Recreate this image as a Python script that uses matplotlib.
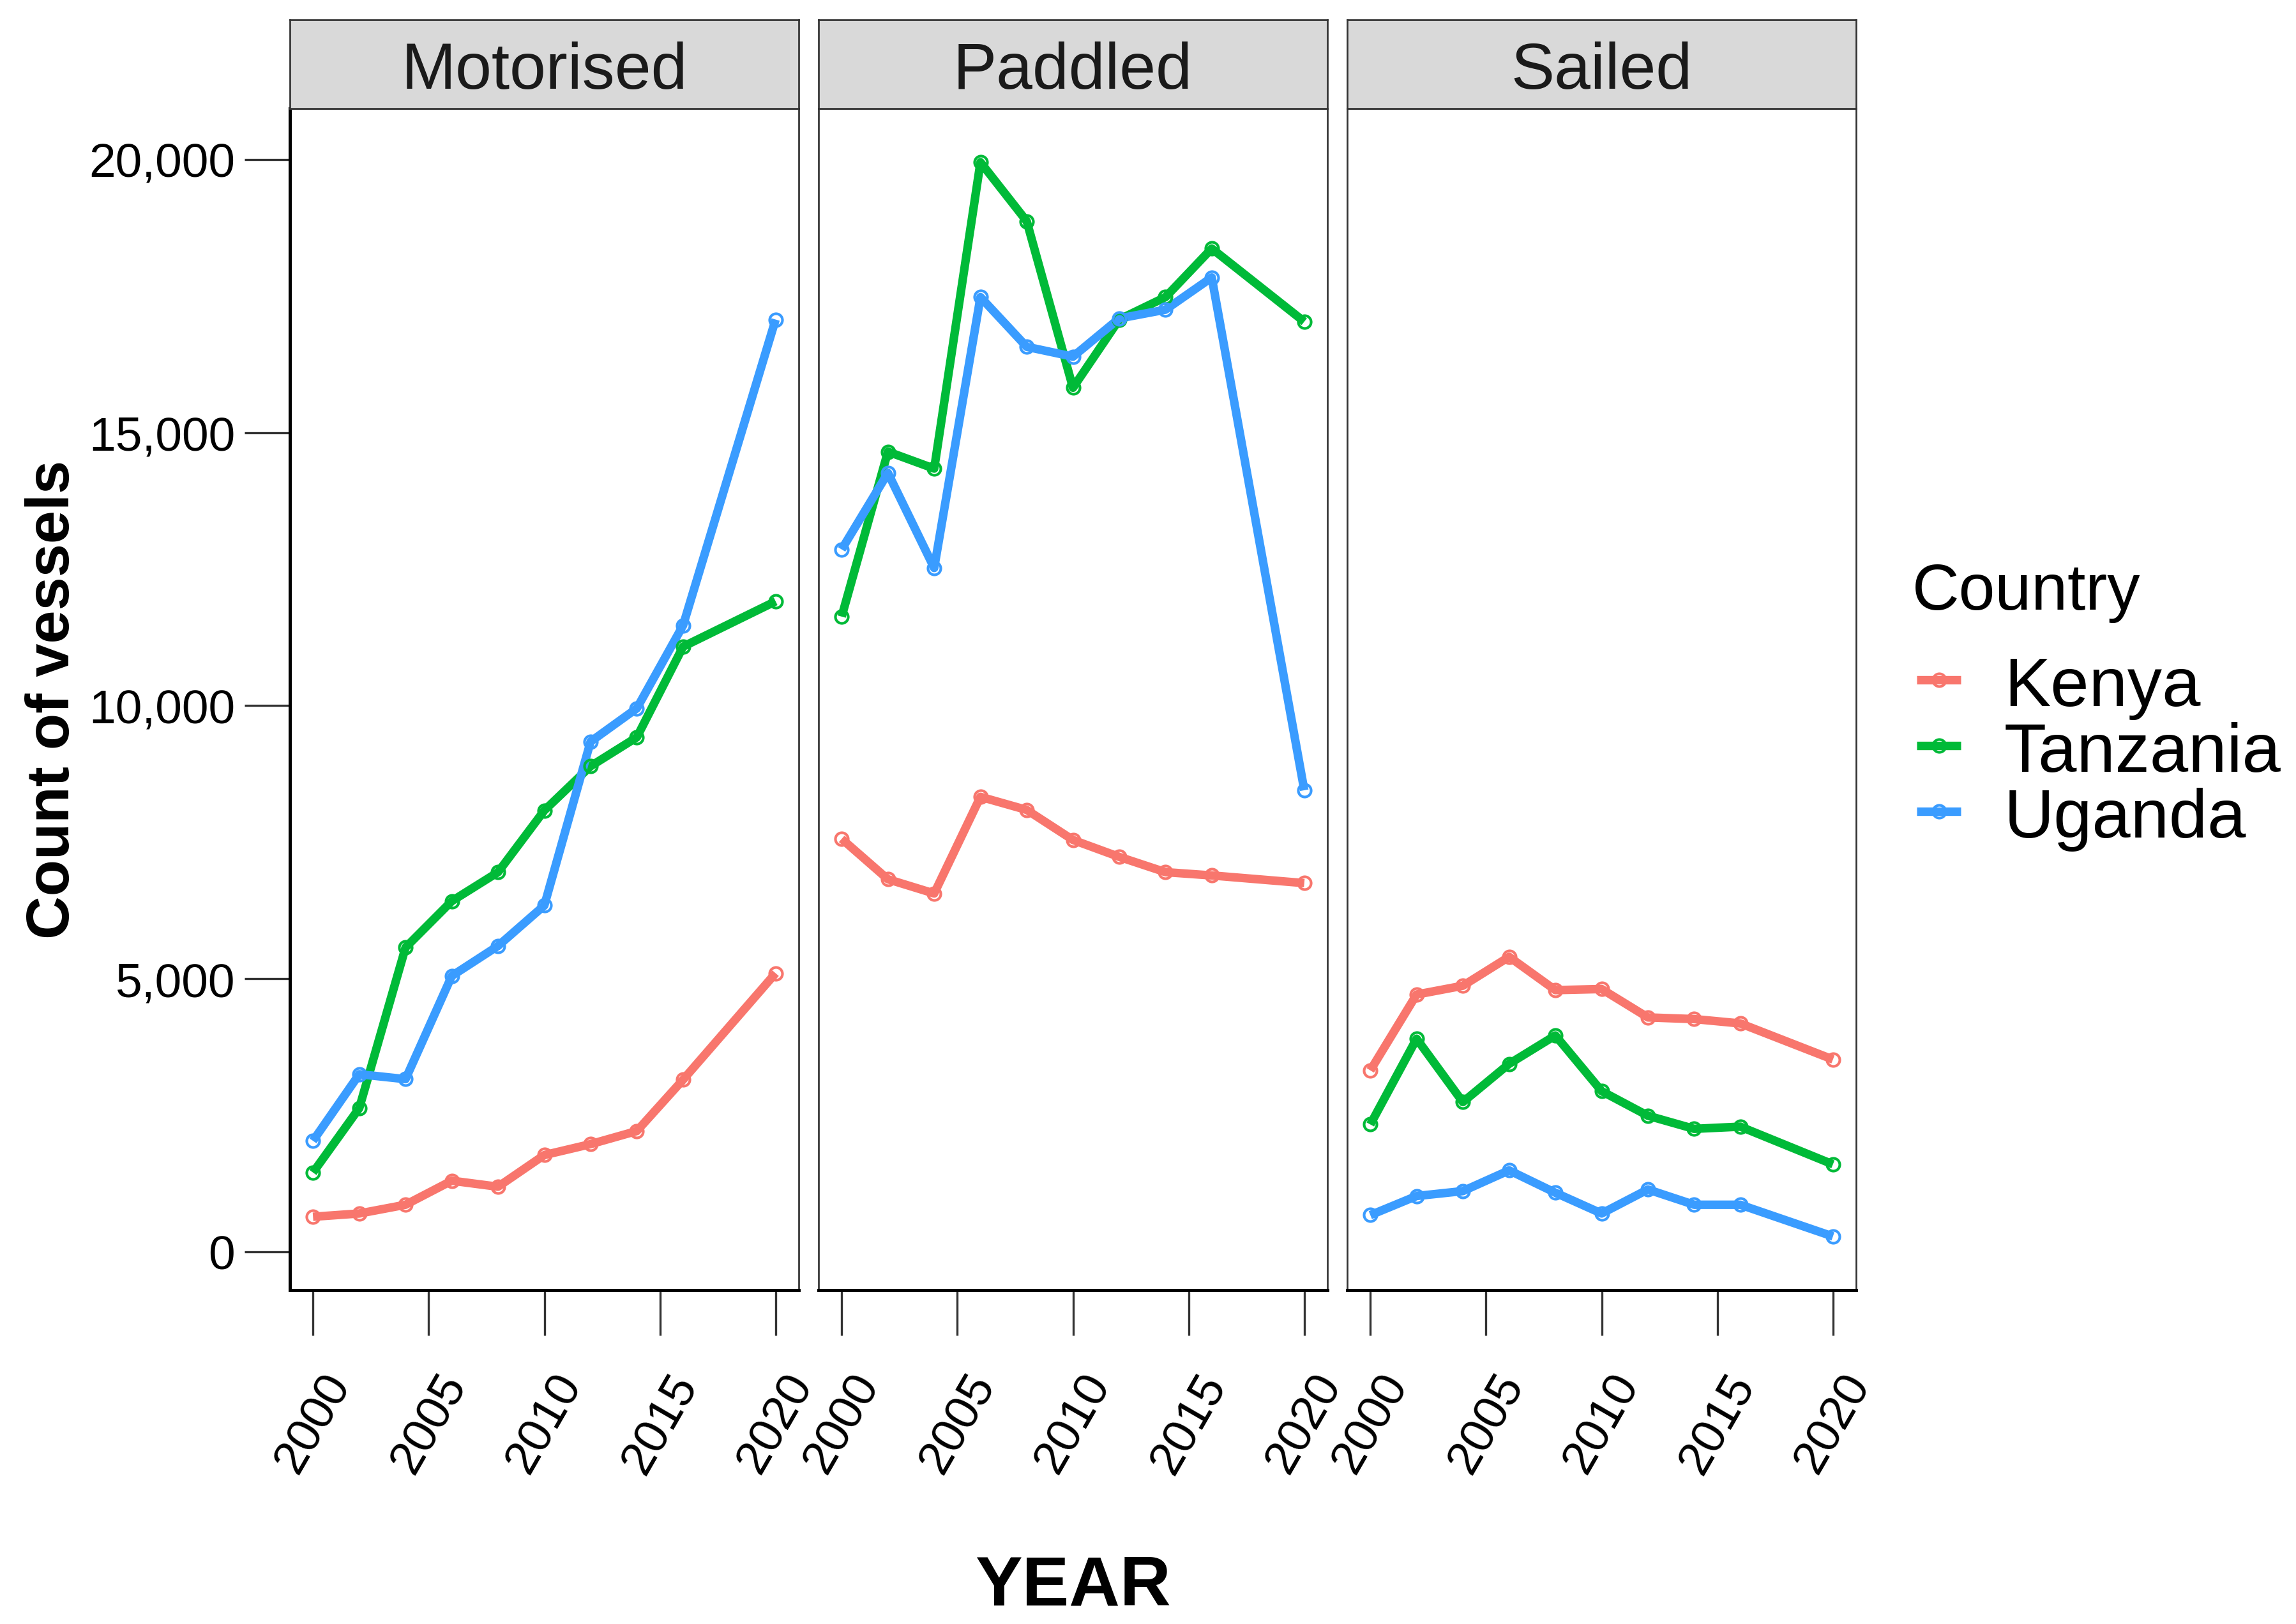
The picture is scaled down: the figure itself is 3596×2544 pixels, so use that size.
import numpy as np
import matplotlib
matplotlib.use('Agg')
import matplotlib.pyplot as plt
from matplotlib.lines import Line2D
from matplotlib.ticker import FuncFormatter

plt.rcParams['font.family'] = ['Liberation Sans', 'DejaVu Sans']

years = [2000, 2002, 2004, 2006, 2008, 2010, 2012, 2014, 2016, 2020]
countries = ['Kenya', 'Tanzania', 'Uganda']
colors = ['#F8766D', '#00BA38', '#3A9CFF']
panels = ['Motorised', 'Paddled', 'Sailed']

# counts, per vessel type and country
motorised_kenya = [640, 700, 860, 1300, 1190, 1770, 1970, 2210, 3150, 5100]
motorised_tanzania = [1450, 2630, 5570, 6420, 6950, 8080, 8890, 9420, 11080, 11910]
motorised_uganda = [2030, 3250, 3160, 5050, 5600, 6340, 9340, 9950, 11470, 17070]
paddled_kenya = [7560, 6820, 6560, 8330, 8090, 7540, 7230, 6950, 6890, 6750]
paddled_tanzania = [11630, 14650, 14340, 19950, 18870, 15820, 17070, 17480, 18370, 17030]
paddled_uganda = [12860, 14260, 12520, 17480, 16570, 16390, 17090, 17250, 17840, 8450]
sailed_kenya = [3320, 4710, 4870, 5400, 4790, 4810, 4290, 4260, 4180, 3520]
sailed_tanzania = [2330, 3900, 2740, 3440, 3960, 2940, 2490, 2250, 2290, 1600]
sailed_uganda = [670, 1020, 1110, 1490, 1080, 700, 1140, 860, 860, 280]

data = {
    'Motorised': [motorised_kenya, motorised_tanzania, motorised_uganda],
    'Paddled': [paddled_kenya, paddled_tanzania, paddled_uganda],
    'Sailed': [sailed_kenya, sailed_tanzania, sailed_uganda],
}

W, H = 3596, 2545
fig = plt.figure(figsize=(W / 300, H / 300), dpi=300)

# layout in pixels
panel_left = [454, 1282, 2110]
panel_w = 797
panel_top, panel_bottom, strip_top = 171, 2022, 32

allvals = np.concatenate([np.array(v) for k in data for v in data[k]])
rng = allvals.max() - allvals.min()
ylim = (allvals.min() - 0.05 * rng, allvals.max() + 0.05 * rng)
xr = years[-1] - years[0]
xlim = (years[0] - 0.05 * xr, years[-1] + 0.05 * xr)

border = '#333333'
for i, name in enumerate(panels):
    l = panel_left[i]
    ax = fig.add_axes([l / W, 1 - panel_bottom / H, panel_w / W, (panel_bottom - panel_top) / H])
    for vals, c in zip(data[name], colors):
        ax.plot(years, vals, color=c, lw=3.2, zorder=3, solid_capstyle='butt')
        ax.plot(years, vals, ls='none', marker='o', ms=4.8, mfc='none', mec=c, mew=1.0, zorder=4)
    ax.set_xlim(xlim)
    ax.set_ylim(ylim)
    ax.set_xticks([2000, 2005, 2010, 2015, 2020])
    ax.set_yticks([0, 5000, 10000, 15000, 20000])
    ax.yaxis.set_major_formatter(FuncFormatter(lambda v, p: f'{v:,.0f}'))
    ax.tick_params(axis='both', length=17, width=0.8, color=border, labelsize=18, labelcolor='black')
    ax.tick_params(axis='y', pad=3.6)
    ax.tick_params(axis='x', pad=33)
    for lab in ax.get_xticklabels():
        lab.set_rotation(60)
        lab.set_ha('center')
        lab.set_va('center')
        lab.set_rotation_mode('anchor')
    for s in ax.spines.values():
        s.set_color(border)
        s.set_linewidth(0.65)
    ax.spines['bottom'].set_color('black')
    ax.spines['bottom'].set_linewidth(1.2)
    if i == 0:
        ax.spines['left'].set_color('black')
        ax.spines['left'].set_linewidth(1.2)
    else:
        ax.tick_params(axis='y', left=False, labelleft=False)

    st = fig.add_axes([l / W, 1 - panel_top / H, panel_w / W, (panel_top - strip_top) / H])
    st.set_facecolor('#D9D9D9')
    st.set_xticks([])
    st.set_yticks([])
    for s in st.spines.values():
        s.set_color(border)
        s.set_linewidth(0.65)
    st.text(0.5, 0.23, name, transform=st.transAxes, ha='center', va='baseline',
            fontsize=24.5, color='#1A1A1A')

# axis titles
fig.text(108 / W, 1 - 1096 / H, 'Count of vessels', rotation=90, rotation_mode='anchor',
         ha='center', va='baseline', fontsize=22.5, fontweight='bold')
fig.text(1680 / W, 1 - 2515 / H, 'YEAR', ha='center', va='baseline',
         fontsize=26.5, fontweight='bold')

# legend
fig.text(2995 / W, 1 - 955 / H, 'Country', fontsize=24.5, ha='left', va='baseline')
for i, (name, c) in enumerate(zip(countries, colors)):
    yk = 1 - (1066 + 103 * i) / H
    fig.add_artist(Line2D([3002 / W, 3071 / W], [yk, yk], lw=3.2, color=c, solid_capstyle='butt'))
    fig.add_artist(Line2D([3036.5 / W], [yk], marker='o', ms=4.8, mfc='none', mec=c, mew=1.0))
    fig.text(3139 / W, yk - 40 / H, name, fontsize=26, ha='left', va='baseline')

fig.savefig('out.png', dpi=300)
